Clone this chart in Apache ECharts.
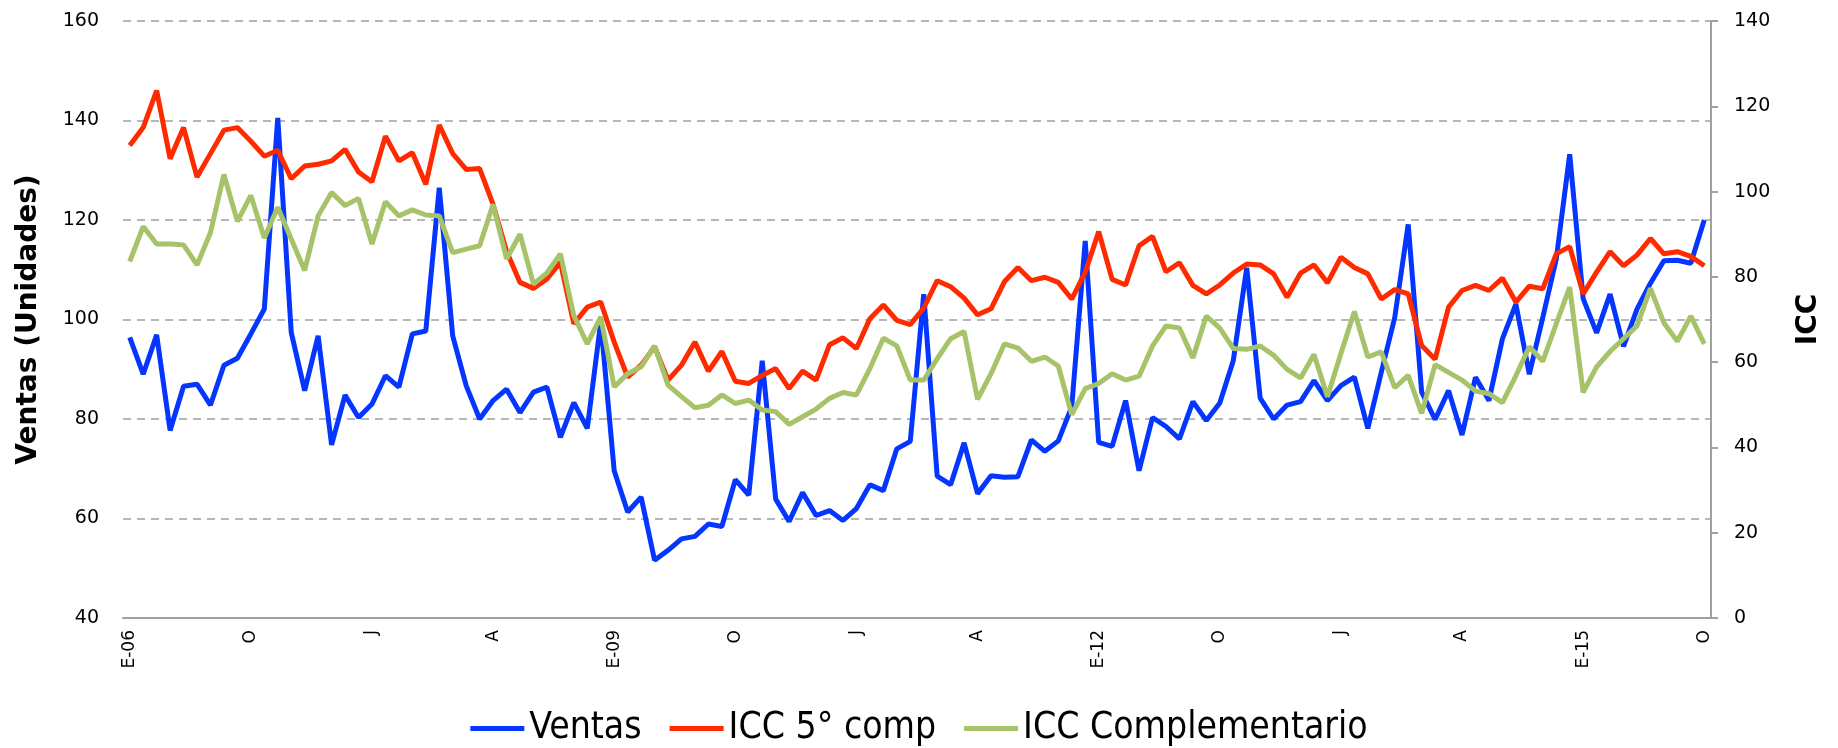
<!DOCTYPE html>
<html>
<head>
<meta charset="utf-8">
<title>Ventas e ICC</title>
<script src="https://cdn.jsdelivr.net/npm/echarts@6/dist/echarts.min.js"></script>
<style>
  html, body { margin: 0; padding: 0; background: #fff; }
  #chart { width: 1838px; height: 748px; }
</style>
</head>
<body>
<div id="chart"></div>
<script>
// meses: enero 2006 .. octubre 2015
const mesesIni = ['E', 'F', 'M', 'A', 'M', 'J', 'J', 'A', 'S', 'O', 'N', 'D']
const anioInicio = 2006
const numMeses = 118

// Ventas (eje izquierdo, unidades)
const ventas = [
  96.4, 89.0, 96.9, 77.7, 86.6, 87.0, 82.8, 90.8, 92.2, 97.1, 102.1, 140.5, 97.4, 85.7,
  96.7, 74.8, 84.8, 80.3, 83.0, 88.7, 86.4, 97.1, 97.7, 126.5, 96.7, 86.7, 80.0, 83.7,
  86.0, 81.3, 85.4, 86.4, 76.3, 83.3, 78.1, 99.5, 69.6, 61.3, 64.3, 51.6, 53.6, 55.9, 56.4,
  58.9, 58.4, 67.8, 64.7, 91.7, 63.9, 59.4, 65.2, 60.6, 61.6, 59.6, 62.0, 66.8, 65.6,
  74.0, 75.5, 105.1, 68.5, 66.8, 75.2, 65.0, 68.6, 68.3, 68.4, 75.8, 73.5, 75.6, 82.5,
  115.8, 75.3, 74.5, 83.7, 69.6, 80.3, 78.5, 76.0, 83.5, 79.7, 83.2, 91.7, 110.4, 84.2,
  80.0, 82.8, 83.5, 87.7, 83.7, 86.7, 88.4, 78.1, 89.4, 100.4, 119.1, 85.4, 79.9, 85.7,
  76.8, 88.4, 83.7, 96.1, 103.1, 89.0, 100.4, 112.1, 133.2, 104.2, 97.3, 105.1, 94.6,
  102.1, 107.3, 111.8, 111.9, 111.3, 120.0
]

// ICC 5° componente (eje derecho)
const icc5 = [
  110.8, 115.0, 123.7, 107.7, 115.0, 103.4, 108.9, 114.4, 115.0, 111.8, 108.3, 109.7, 103.0, 106.0,
  106.4, 107.2, 109.9, 104.6, 102.3, 113.0, 107.2, 109.1, 101.7, 115.6, 108.9, 105.2, 105.4, 97.0,
  86.0, 78.7, 77.3, 79.5, 83.4, 69.0, 72.9, 74.1, 64.7, 56.5, 59.3, 63.6, 55.8, 59.3, 64.7,
  57.9, 62.5, 55.5, 55.0, 56.9, 58.5, 53.8, 57.9, 55.8, 64.1, 65.7, 63.2, 70.2, 73.4,
  69.8, 68.8, 72.7, 79.1, 77.7, 75.0, 71.1, 72.5, 78.9, 82.2, 79.1, 79.9, 78.7, 74.8,
  81.1, 90.6, 79.4, 78.1, 87.3, 89.5, 81.2, 83.3, 78.0, 76.0, 78.1, 80.9, 83.0, 82.8,
  80.7, 75.2, 80.9, 82.8, 78.6, 84.6, 82.2, 80.7, 74.8, 77.0, 76.0, 63.9, 60.7, 72.9,
  76.8, 78.0, 76.8, 79.7, 74.1, 77.8, 77.2, 85.4, 87.1, 76.0, 81.1, 85.9, 82.6,
  85.1, 89.0, 85.4, 85.9, 84.8, 82.6
]

// ICC Complementario (eje derecho)
const iccComp = [
  83.6, 91.8, 87.7, 87.7, 87.5, 82.8, 90.4, 104.0, 93.0, 99.1, 89.1, 96.3, 88.9, 81.5,
  94.3, 99.8, 96.7, 98.4, 87.7, 97.6, 94.3, 95.7, 94.5, 94.3, 85.7, 86.5, 87.3, 97.0,
  84.2, 90.0, 78.3, 80.9, 85.4, 70.9, 64.3, 70.6, 54.2, 57.3, 58.9, 63.8, 54.6, 51.9, 49.3,
  49.9, 52.3, 50.3, 51.1, 48.8, 48.4, 45.4, 47.2, 49.0, 51.5, 52.9, 52.3, 58.5, 65.6,
  63.8, 55.8, 55.8, 60.8, 65.5, 67.2, 51.3, 57.3, 64.3, 63.3, 60.2, 61.2, 59.1, 47.7,
  53.8, 55.0, 57.3, 55.8, 56.7, 63.8, 68.5, 68.0, 61.0, 70.8, 68.0, 63.2, 63.0, 63.8,
  61.6, 58.3, 56.3, 61.8, 51.9, 62.0, 71.9, 61.2, 62.4, 54.0, 56.9, 48.0, 59.4, 57.6,
  55.8, 53.2, 52.6, 50.5, 56.8, 63.6, 60.2, 69.0, 77.6, 52.9, 58.9, 62.5, 65.5,
  68.5, 77.3, 69.2, 64.9, 70.8, 64.3
]

// etiquetas del eje x: enero con el año, resto solo la inicial
const categorias = []
for (let i = 0; i < numMeses; i++) {
  const m = i % 12
  const anio = anioInicio + Math.floor(i / 12)
  categorias.push(m === 0 ? 'E-' + String(anio).slice(2) : mesesIni[m])
}

const fuente = "'DejaVu Sans', sans-serif"
const fuenteLeyenda = "'Liberation Sans Narrow', 'DejaVu Sans Condensed', 'Liberation Sans', sans-serif"
const gris = '#a0a0a0'

const chart = echarts.init(document.getElementById('chart'))

const option = {
  animation: false,
  backgroundColor: '#fff',
  grid: { left: 123, right: 127, top: 21, bottom: 130 },
  legend: {
    left: 'center',
    bottom: -4,
    icon: 'rect',
    itemWidth: 54,
    itemHeight: 5,
    itemGap: 28,
    textStyle: { fontFamily: fuenteLeyenda, fontSize: 37, color: '#000' },
    data: ['Ventas', 'ICC 5° comp', 'ICC Complementario']
  },
  xAxis: {
    type: 'category',
    data: categorias,
    boundaryGap: true,
    axisLine: { lineStyle: { color: gris, width: 2 } },
    axisTick: { show: false },
    axisLabel: {
      interval: 8,
      rotate: 90,
      margin: 12,
      fontFamily: fuente,
      fontSize: 17,
      color: '#000'
    }
  },
  yAxis: [
    {
      type: 'value',
      min: 40,
      max: 160,
      interval: 20,
      name: 'Ventas (Unidades)',
      nameLocation: 'middle',
      nameRotate: 90,
      nameGap: 80,
      nameTextStyle: { fontFamily: fuente, fontSize: 28, fontWeight: 'bold', color: '#000' },
      axisLine: { show: false },
      axisTick: { show: false },
      axisLabel: { fontFamily: fuente, fontSize: 19, color: '#000', margin: 24 },
      splitLine: { lineStyle: { color: gris, width: 1.5, type: [8, 6] } }
    },
    {
      type: 'value',
      min: 0,
      max: 140,
      interval: 20,
      position: 'right',
      name: 'ICC',
      nameLocation: 'middle',
      nameRotate: 90,
      nameGap: 84,
      nameTextStyle: { fontFamily: fuente, fontSize: 28, fontWeight: 'bold', color: '#000' },
      axisLine: { show: true, lineStyle: { color: gris, width: 2 } },
      axisTick: { show: true, length: 7, lineStyle: { color: gris, width: 2 } },
      axisLabel: { fontFamily: fuente, fontSize: 19, color: '#000', margin: 23 },
      splitLine: { show: false }
    }
  ],
  series: [
    {
      name: 'Ventas',
      type: 'line',
      yAxisIndex: 0,
      data: ventas,
      symbol: 'none',
      lineStyle: { color: '#0536ff', width: 5 },
      itemStyle: { color: '#0536ff' }
    },
    {
      name: 'ICC 5° comp',
      type: 'line',
      yAxisIndex: 1,
      data: icc5,
      symbol: 'none',
      lineStyle: { color: '#ff2a00', width: 5 },
      itemStyle: { color: '#ff2a00' }
    },
    {
      name: 'ICC Complementario',
      type: 'line',
      yAxisIndex: 1,
      data: iccComp,
      symbol: 'none',
      lineStyle: { color: '#a7c36a', width: 5 },
      itemStyle: { color: '#a7c36a' }
    }
  ]
}

chart.setOption(option)
</script>
</body>
</html>
